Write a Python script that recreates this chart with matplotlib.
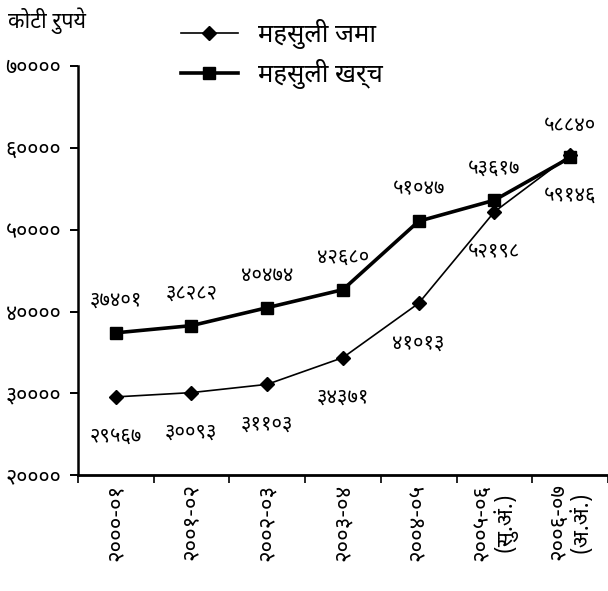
import matplotlib
matplotlib.use('Agg')
import numpy as np
import matplotlib.pyplot as plt
from matplotlib.ticker import FixedLocator

plt.rcParams['font.family'] = ['Noto Sans Devanagari', 'DejaVu Sans']

# data
years = ['२०००-०१', '२००१-०२', '२००२-०३', '२००३-०४', '२००४-०५',
         '२००५-०६\n(सु.अं.)', '२००६-०७\n(अ.अं.)']
revenue = [29567, 30093, 31103, 34371, 41013, 52198, 59146]
expense = [37401, 38282, 40474, 42680, 51047, 53617, 58840]
yticks = [20000, 30000, 40000, 50000, 60000, 70000]

dev = str.maketrans('0123456789', '०१२३४५६७८९')


def to_dev(v):
    return str(v).translate(dev)


fs = 14.5
fig = plt.figure(figsize=(6.08, 5.91), dpi=100)
ax = fig.add_axes([0.128, 0.196, 0.872, 0.692])

x = np.arange(len(years))
l1, = ax.plot(x, revenue, color='black', lw=1.2, marker='D', ms=7,
              label='महसुली जमा')
l2, = ax.plot(x, expense, color='black', lw=2.6, marker='s', ms=9,
              label='महसुली खर्च')

# data labels
for xi, v in zip(x, expense):
    ax.annotate(to_dev(v), (xi, v), xytext=(0, 23), textcoords='offset points',
                ha='center', va='center', fontsize=fs)
for xi, v in zip(x, revenue):
    ax.annotate(to_dev(v), (xi, v), xytext=(0, -29), textcoords='offset points',
                ha='center', va='center', fontsize=fs)

ax.set_xlim(-0.5, len(years) - 0.5)
ax.set_ylim(20000, 70000)
ax.set_yticks(yticks)
ax.set_yticklabels([to_dev(t) for t in yticks], fontsize=15.5)

# ticks between categories, labels at centres
ax.xaxis.set_major_locator(FixedLocator(np.arange(-0.5, len(years))))
ax.xaxis.set_minor_locator(FixedLocator(x))
ax.set_xticklabels([], minor=False)
ax.set_xticklabels(years, minor=True, rotation=90, fontsize=16,
                   va='top', ha='center', multialignment='center',
                   linespacing=1.0)
ax.tick_params(axis='x', which='major', direction='out', length=6, width=1.2)
ax.tick_params(axis='x', which='minor', length=0, pad=6)
ax.tick_params(axis='y', direction='out', length=6, width=1.4, pad=6)

for s in ['top', 'right']:
    ax.spines[s].set_visible(False)
ax.spines['left'].set_linewidth(1.8)
ax.spines['bottom'].set_linewidth(2)

fig.text(0.013, 0.965, 'कोटी रुपये', fontsize=15.5, va='center', ha='left')

fig.legend(handles=[l1, l2], loc='upper left', bbox_to_anchor=(0.26, 1.007),
           frameon=False, prop={'size': 18.5},
           handlelength=2.2, handletextpad=0.8, labelspacing=0.4)

fig.savefig('out.png')
